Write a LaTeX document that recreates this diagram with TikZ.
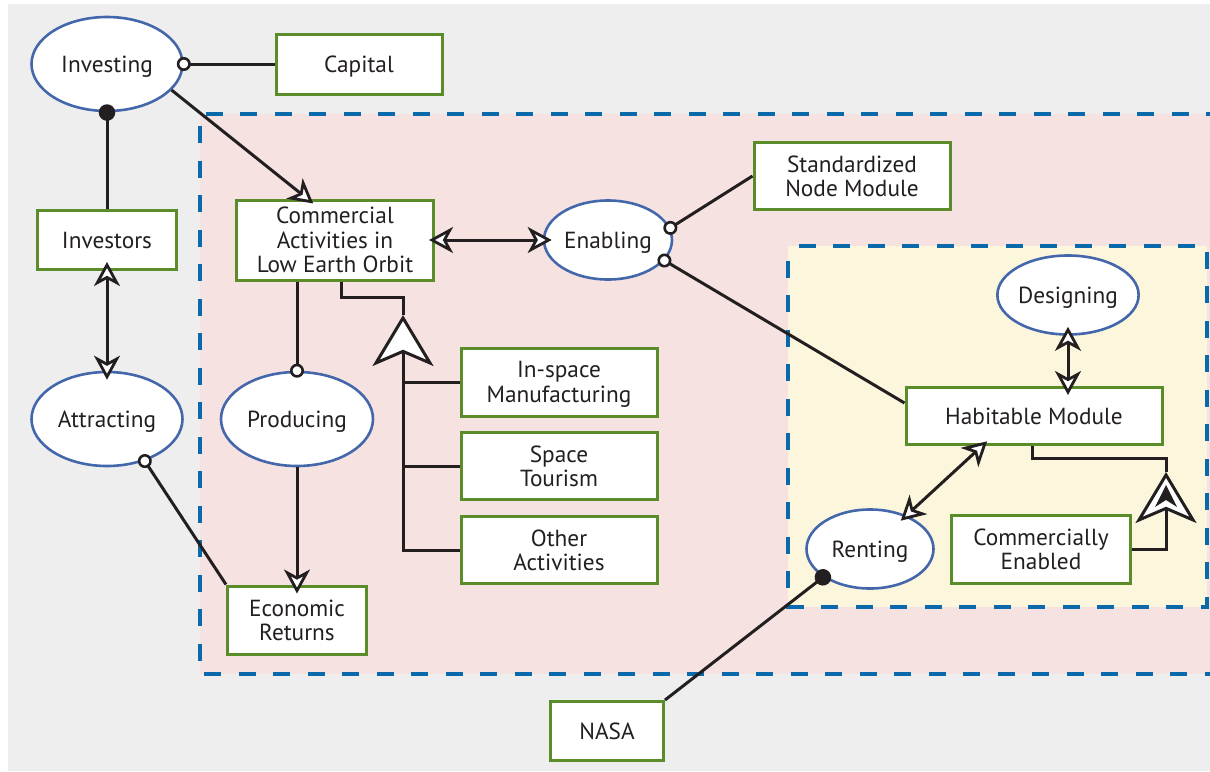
\documentclass[tikz,border=0pt]{standalone}
\usepackage{fontspec}
\setmainfont{PT Sans}
\usetikzlibrary{arrows.meta,calc,shapes.geometric}

\definecolor{bggray}{HTML}{EEEEEE}
\definecolor{pinkbg}{HTML}{F6E2E1}
\definecolor{yellowbg}{HTML}{FCF6DC}
\definecolor{dashblue}{HTML}{0A69AA}
\definecolor{ellblue}{HTML}{4467AC}
\definecolor{boxgreen}{HTML}{5B8C2A}
\definecolor{ink}{HTML}{231F20}

\tikzset{
  lbl/.style={text=ink, font=\fontsize{23.3}{24.5}\selectfont, align=center, inner sep=0pt, text depth=0pt},
  proc/.style={lbl, ellipse, draw=ellblue, line width=2.6pt, fill=white},
  obj/.style={lbl, rectangle, draw=boxgreen, line width=3pt, fill=white},
  link/.style={draw=ink, line width=3pt},
  region/.style={draw=dashblue, line width=4pt, dash pattern=on 17pt off 17.5pt},
  oarr/.tip={Stealth[fill=white, length=24pt, width=26pt, inset=7pt, line width=2.8pt]},
  ocirc/.tip={Circle[fill=white, length=14pt, line width=2.6pt]},
  bdot/.tip={Circle[fill=ink, length=16.5pt]},
  bigtri/.tip={Stealth[fill=white, length=51pt, width=61pt, inset=13pt, line width=3pt]},
}

\begin{document}
\begin{tikzpicture}[x=1pt, y=-1pt]
\useasboundingbox (0,0) rectangle (1210,771);
\clip (0,0) rectangle (1210,771);

% backgrounds and system boundaries
\fill[bggray] (8,4) rectangle (1210,771);
\fill[pinkbg] (200,114) rectangle (1230,674);
\draw[region, dash phase=27.5pt] (1230,114) -- (200,114) -- (200,674) -- (1230,674);
\fill[yellowbg] (788,246) rectangle (1207,607);
\draw[region, dash phase=20pt] (788,246) rectangle (1207,607);

% processes
\node[proc, minimum width=151pt, minimum height=94pt] (inv)  at (107,64)  {Investing};
\node[proc, minimum width=151pt, minimum height=94pt] (attr) at (107,419) {Attracting};
\node[proc, minimum width=152pt, minimum height=94pt] (prod) at (297,419) {Producing};
\node[proc, minimum width=128pt, minimum height=79pt] (enab) at (608,240) {Enabling};
\node[proc, minimum width=127pt, minimum height=79pt] (des)  at (1068,295) {Designing};
\node[proc, minimum width=127pt, minimum height=79pt] (rent) at (870,549) {Renting};

% objects
\node[obj, minimum width=166pt, minimum height=60pt] (cap)  at (359,64)  {Capital};
\node[obj, minimum width=139pt, minimum height=59pt] (invs) at (107,240) {Investors};
\node[obj, minimum width=197pt, minimum height=80pt] (com)  at (335,240) {Commercial\\Activities in\\Low Earth Orbit};
\node[obj, minimum width=196pt, minimum height=68pt] (ins)  at (559,382) {In-space\\Manufacturing};
\node[obj, minimum width=196pt, minimum height=67pt] (spt)  at (559,466) {Space\\Tourism};
\node[obj, minimum width=196pt, minimum height=67pt] (oth)  at (559,550) {Other\\Activities};
\node[obj, minimum width=139pt, minimum height=68pt] (er)   at (297,620) {Economic\\Returns};
\node[obj, minimum width=196pt, minimum height=67pt] (snm)  at (852,176) {Standardized\\Node Module};
\node[obj, minimum width=256pt, minimum height=57pt] (hab)  at (1034,416) {Habitable Module};
\node[obj, minimum width=179pt, minimum height=68pt] (ce)   at (1041,549) {Commercially\\Enabled};
\node[obj, minimum width=113pt, minimum height=59pt] (nasa) at (607,731) {NASA};

% links
\draw[link, {ocirc}-, shorten <=-7pt] (inv.east) -- (cap.west);
\draw[link, {bdot}-, shorten <=-8pt] (inv.south) -- (invs.north);
\draw[link, -oarr, shorten >=-8pt] (inv.-22.6) -- ([xshift=-28pt]com.north);
\draw[link, oarr-oarr, shorten <=-9pt, shorten >=-9pt] (invs.south) -- (attr.north);
\draw[link, {ocirc}-, shorten <=-7pt] (attr.-48.6) -- (er.north west);
\draw[link, -{ocirc}, shorten >=-7pt] (com.south -| prod.north) -- (prod.north);
\draw[link, -oarr, shorten >=-9pt] (prod.south) -- (er.north);
\draw[link, oarr-oarr, shorten <=-6pt, shorten >=-9pt] (com.east) -- (enab.west);
\draw[link, {ocirc}-, shorten <=-7pt] (enab.11) -- (snm.west);
\draw[link, {ocirc}-, shorten <=-7pt] (enab.-20) -- ([yshift=13pt]hab.west);
\draw[link, oarr-oarr, shorten <=-9pt, shorten >=-9pt] (des.south) -- (des.south |- hab.north);
\draw[link, oarr-oarr, shorten <=-8pt, shorten >=-7pt] (rent) -- ([xshift=-52pt]hab.south);
\draw[link, {bdot}-, shorten <=-8pt] (rent.-149) -- (nasa.north east);

% generalization: kinds of commercial activities
\coordinate (ap1) at (403,315);
\coordinate (k1)  at (403,297);
\draw[link] ([xshift=6pt]com.south) |- (k1) -- (ap1);
\draw[link, -bigtri] (oth.west) -| (ap1);
\draw[link] (ins.west) -- (ins.west -| ap1);
\draw[link] (spt.west) -- (spt.west -| ap1);

% generalization: commercially enabled habitable module
\coordinate (ap2) at (1166,472);
\coordinate (k2)  at (1166,458);
\draw[link] ([xshift=-2pt]hab.south) |- (k2) -- (ap2);
\draw[link, -bigtri] (ce.east) -| (ap2);
\fill[ink] ($(ap2)+(0,13)$) -- ($(ap2)+(11,35)$) -- ($(ap2)+(0,28)$) -- ($(ap2)+(-11,35)$) -- cycle;
\end{tikzpicture}
\end{document}
